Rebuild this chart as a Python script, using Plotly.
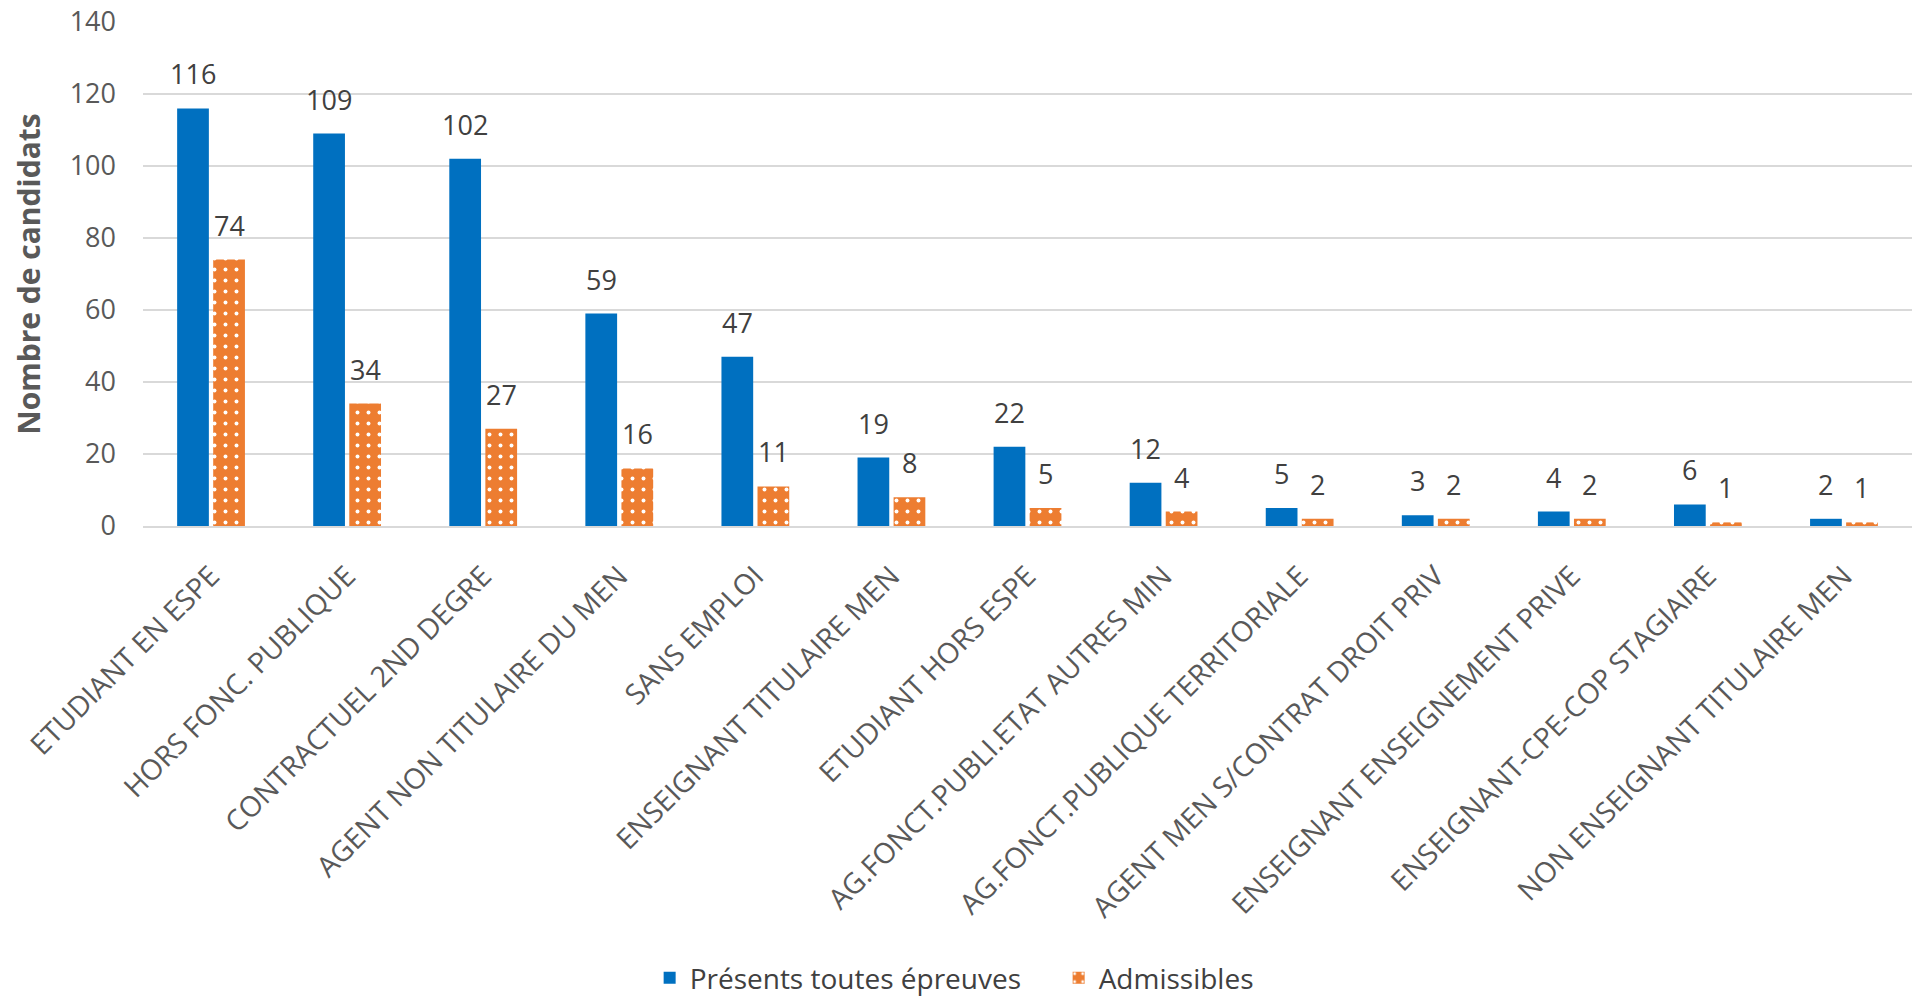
import plotly.graph_objects as go

categories = ["ETUDIANT EN ESPE", "HORS FONC. PUBLIQUE", "CONTRACTUEL 2ND DEGRE",
              "AGENT NON TITULAIRE DU MEN", "SANS EMPLOI", "ENSEIGNANT TITULAIRE MEN",
              "ETUDIANT HORS ESPE", "AG.FONCT.PUBLI.ETAT AUTRES MIN",
              "AG.FONCT.PUBLIQUE TERRITORIALE", "AGENT MEN S/CONTRAT DROIT PRIV",
              "ENSEIGNANT ENSEIGNEMENT PRIVE", "ENSEIGNANT-CPE-COP STAGIAIRE",
              "NON ENSEIGNANT TITULAIRE MEN"]
presents = [116, 109, 102, 59, 47, 19, 22, 12, 5, 3, 4, 6, 2]
admissibles = [74, 34, 27, 16, 11, 8, 5, 4, 2, 2, 2, 1, 1]
y_ticks = [0, 20, 40, 60, 80, 100, 120, 140]

FONT = "Open Sans"
W, H = 1912, 997
ML, MR, MT, MB = 143, 0, 22, 471
BARGAP, GROUPGAP = 0.47, 0.12

fig = go.Figure()
fig.add_trace(go.Bar(
    x=categories, y=presents, name="Présents toutes épreuves",
    marker=dict(color="#0070C0", line=dict(width=0)),
))
fig.add_trace(go.Bar(
    x=categories, y=admissibles, name="Admissibles",
    marker=dict(color="#ED7D31", line=dict(width=0),
                pattern=dict(shape=".", fgcolor="white", bgcolor="#ED7D31",
                             size=11, solidity=0.1, fillmode="replace")),
))

# data labels: placed from the data through the axes, shifted to each bar of the group
cat_px = (W - ML - MR) / len(categories)
slot_px = cat_px * (1 - BARGAP) / 2
for series, dx in ((presents, -slot_px / 2), (admissibles, slot_px / 2)):
    for c, v in zip(categories, series):
        fig.add_annotation(x=c, y=v, xref="x", yref="y", text=str(v), showarrow=False,
                           xshift=dx, yshift=14, yanchor="bottom", xanchor="center",
                           font=dict(family=FONT, size=27, color="#404040"))

plot_h = H - MT - MB
fig.update_layout(
    width=W, height=H,
    margin=dict(l=ML, r=MR, t=MT, b=MB, autoexpand=False),
    paper_bgcolor="white", plot_bgcolor="white",
    barmode="group", bargap=BARGAP, bargroupgap=GROUPGAP,
    font=dict(family=FONT, color="#595959"),
    showlegend=True,
    legend=dict(orientation="h", x=0.2864, xanchor="left",
                y=-(H + 6 - MT - plot_h) / plot_h, yanchor="bottom",
                font=dict(family=FONT, size=28, color="#404040"), traceorder="normal",
                entrywidth=364, entrywidthmode="pixels"),
    yaxis=dict(range=[0, 140], tickvals=y_ticks, showgrid=True, gridcolor="#D9D9D9",
               gridwidth=2, zeroline=False, showline=False,
               tickfont=dict(family=FONT, size=27, color="#595959"),
               ticklabelstandoff=26,
               title=dict(text="<b>Nombre de candidats</b>", standoff=20,
                          font=dict(family=FONT, size=30, color="#595959"))),
    xaxis=dict(tickangle=-45, showline=True, linecolor="#D9D9D9", linewidth=2,
               tickfont=dict(family=FONT, size=28.5, color="#595959"),
               ticks="outside", ticklen=20, tickcolor="rgba(0,0,0,0)"),
)

fig.write_html("out.html")
